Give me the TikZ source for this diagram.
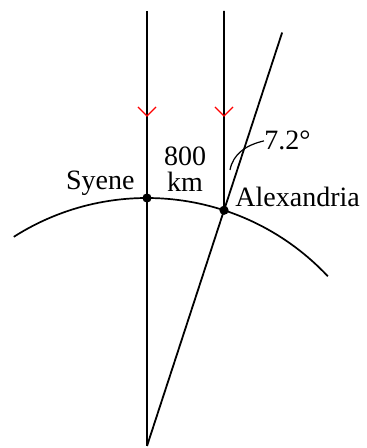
\documentclass[tikz,border=0pt]{standalone}
\usepackage{fontspec}
\setmainfont{Liberation Serif}
\usetikzlibrary{calc}
\begin{document}
\begin{tikzpicture}[x=0.5pt,y=0.5pt,
  ray/.style={line width=0.9pt,black},
  earth/.style={line width=0.85pt,black},
  sunhead/.style={line width=0.55pt,red},
  city/.style={circle,fill=black,inner sep=0pt,minimum size=4.6pt},
  lbl/.style={inner sep=0pt,font=\fontsize{14pt}{16pt}\selectfont}]
\useasboundingbox (0,0) rectangle (366,448);
\coordinate (C) at (147,2);
\coordinate (S) at ($(C)+(90:248)$);
\coordinate (A) at ($(C)+(71.9:248)$);
\coordinate (T1) at (147,437);
\coordinate (T2) at (224,437);
\coordinate (T3) at ($(C)!1.754!(A)$);
% earth arc
\draw[earth] ($(C)+(122.5:248)$) arc[start angle=122.5,end angle=43.2,radius=248];
% rays
\draw[ray] (T1) -- (C);
\draw[ray] (T2) -- (A);
\draw[ray] (C) -- (T3);
% arrow heads
\draw[sunhead] (138,341) -- (147,332) -- (156,341);
\draw[sunhead] (215,341) -- (224,332) -- (233,341);
% dots
\node[city] (syene) at (S) {};
\node[city] (alex) at (A) {};
% labels
\node[lbl,anchor=base east] (lsy) at (135,258) {Syene};
\node[lbl,anchor=base] (l800) at (185,282) {800};
\node[lbl,anchor=base] (lkm) at (185,256) {km};
\node[lbl,anchor=base west] (lal) at (235,241) {Alexandria};
\node[lbl,anchor=base west] (lang) at (264,298) {7.2°};
\coordinate (lead) at (230,278);
\draw[line width=0.6pt] (lead) .. controls (233,294) and (246,303) .. (lang.west);
\end{tikzpicture}
\end{document}
